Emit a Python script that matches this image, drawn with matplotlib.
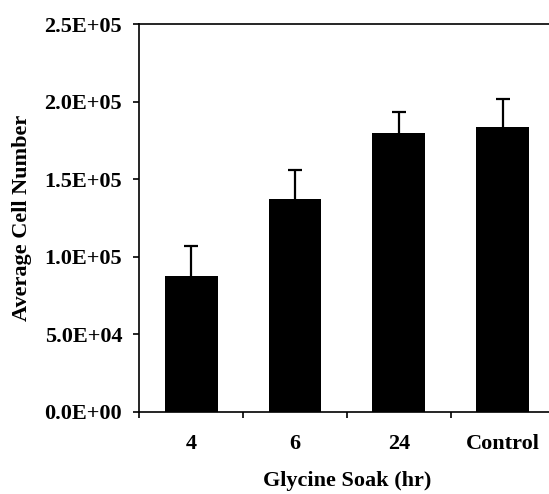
import matplotlib
matplotlib.use("Agg")
import matplotlib.pyplot as plt

plt.rcParams["font.family"] = ["Liberation Serif", "DejaVu Serif"]
plt.rcParams["font.weight"] = "bold"

categories = ["4", "6", "24", "Control"]
mean_cells = [87500, 137300, 179700, 183400]
sd_cells = [19500, 18400, 13400, 18400]
y_ticks = [0, 50000, 100000, 150000, 200000, 250000]
y_tick_labels = ["0.0E+00", "5.0E+04", "1.0E+05", "1.5E+05", "2.0E+05", "2.5E+05"]

fig = plt.figure(figsize=(5.49, 4.94), dpi=100)
# axes run a little past the right edge, so the right frame is cut off
ax = fig.add_axes([0.2537, 0.1666, 0.7563, 0.7848])

x = range(len(categories))
ax.bar(x, mean_cells, width=0.51, color="black", zorder=2)
# symmetric bars drawn behind the columns, so only the upper half shows
ax.errorbar(x, mean_cells, yerr=sd_cells, fmt="none",
            ecolor="black", elinewidth=1.6, capsize=4.8, capthick=1.6, zorder=1)

ax.set_xlim(-0.5, 3.5)
ax.set_ylim(0, 250000)
ax.set_yticks(y_ticks)
ax.set_yticklabels(y_tick_labels)
ax.set_xticks([i + 0.5 for i in range(-1, 4)], minor=False)
ax.set_xticklabels([])
ax.set_xticks(list(x), minor=True)
ax.set_xticklabels(categories, minor=True)

ax.tick_params(axis="x", which="major", direction="out", length=4, width=1.2)
ax.tick_params(axis="x", which="minor", length=0, pad=16, labelsize=16)
ax.tick_params(axis="y", direction="out", length=4.3, width=1.2, pad=8, labelsize=16)

for side in ["left", "bottom", "top"]:
    ax.spines[side].set_linewidth(1.2)
ax.spines["right"].set_visible(False)

ax.set_ylabel("Average Cell Number", fontsize=16, fontweight="bold")
ax.yaxis.set_label_coords(-0.258, 0.5)
ax.set_xlabel("Glycine Soak (hr)", fontsize=16, fontweight="bold")
ax.xaxis.set_label_coords(0.5, -0.152)

fig.savefig("out.png", dpi=100)
